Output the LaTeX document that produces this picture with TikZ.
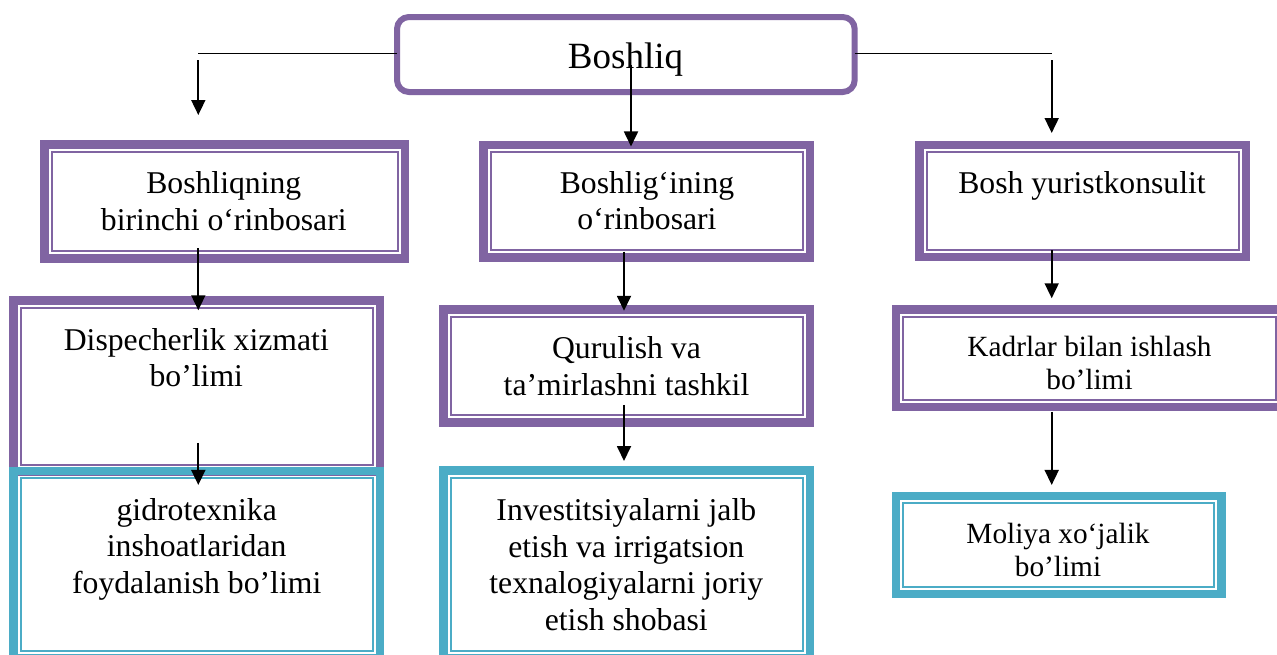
\documentclass[tikz,border=0pt]{standalone}
\usepackage{fontspec}
\setmainfont{Liberation Serif}
\usetikzlibrary{arrows.meta,fit,calc}
\definecolor{purp}{HTML}{8064A2}
\definecolor{cyanb}{HTML}{4BACC6}
\tikzset{
  frame/.style={draw=#1, line width=8.5pt, inner sep=-4.25pt, outer sep=0pt},
  thinframe/.style={draw=#1, line width=2pt},
  txt/.style={font=\fontsize{31.7}{36.5}\selectfont, align=center, inner sep=0pt,
    execute at begin node=\strut, execute at end node=\strut},
  txts/.style={font=\fontsize{29.3}{32.5}\selectfont, align=center, inner sep=0pt,
    execute at begin node=\strut, execute at end node=\strut},
  ln/.style={line width=1.8pt},
  arr/.style={line width=1.8pt, -{Triangle[width=14pt,length=15pt]}},
}
\newcommand\dframe[4]{%
  \node[frame=#2, fit={#3 #4}] (#1) {};
  \draw[thinframe=#2] ([xshift=7.25pt,yshift=-7.25pt]#1.north west) rectangle ([xshift=-7.25pt,yshift=7.25pt]#1.south east);
}
\begin{document}
\begin{tikzpicture}[x=1pt,y=-1pt]
\fill[white] (0,0) rectangle (1277,654);
\useasboundingbox (0,0) rectangle (1277,654);

% top box
\node[draw=purp, line width=6pt, rounded corners=12pt, inner sep=-3pt, outer sep=0pt, fit={(394,14) (857.7,95)}] (B0) {};
\node[font=\fontsize{37}{42}\selectfont, inner sep=0pt, anchor=base] (t0) at (625.5,68.3) {Boshliq};

% boxes
\dframe{b1}{purp}{(40,140)}{(409,262.7)}
\dframe{b2}{purp}{(479.3,140.7)}{(814,261.7)}
\dframe{b3}{purp}{(915,140.7)}{(1250,261)}
\dframe{b4}{purp}{(9.3,296)}{(384,476)}
\dframe{b5}{purp}{(439.3,305)}{(814,426.7)}
\dframe{b8}{purp}{(891.7,305)}{(1287,411)}
\dframe{b6}{cyanb}{(9.3,466.7)}{(384,662)}
\dframe{b7}{cyanb}{(439.3,466)}{(814,662)}
\dframe{b9}{cyanb}{(891.7,491.7)}{(1225.7,598.3)}

% texts
\node[txt] (t1) at (223.8,206.5) {Boshliqning\\birinchi o‘rinbosari};
\node[txt] (t2) at (647,206) {Boshlig‘ining\\o‘rinbosari};
\node[txt] (t3) at (1082,186.1) {Bosh yuristkonsulit};
\node[txt] (t4) at (196.3,363) {Dispecherlik xizmati\\bo’limi};
\node[txt] (t5) at (626.5,371.5) {Qurulish va\\ta’mirlashni tashkil};
\node[txt] (t6) at (196.7,551) {gidrotexnika\\inshoatlaridan\\foydalanish bo’limi};
\node[txt] (t7) at (626.3,570) {Investitsiyalarni jalb\\etish va irrigatsion\\texnalogiyalarni joriy\\etish shobasi};
\node[txts] (t8) at (1089.5,367.5) {Kadrlar bilan ishlash\\bo’limi};
\node[txts] (t9) at (1058,554.5) {Moliya xo‘jalik\\bo’limi};

% connector helpers
\coordinate (xL) at (198.3,0);
\coordinate (xR) at (1051.7,0);
\coordinate (xM) at (624,0);
\coordinate (aL1) at (198.3,60);
\coordinate (aL2) at (198.3,115);
\coordinate (aR1) at (1051.7,60);
\coordinate (aR2) at (1051.7,133);
\coordinate (aM1) at (631,65);

% connectors
\draw[ln] ($(B0.west)+(0,-1)$) -- ($(B0.west -| xL)+(0,-1)$);
\draw[arr] (aL1) -- (aL2);
\draw[ln] ($(B0.east)+(0,-1)$) -- ($(B0.east -| xR)+(0,-1)$);
\draw[arr] (aR1) -- (aR2);
\draw[arr] (aM1) -- ($(b2.north -| aM1)+(0,1.5)$);
\draw[arr] ($(b1.south -| xL)+(0,-10)$) -- ($(b4.north -| xL)+(0,10)$);
\draw[arr] ($(b4.south -| xL)+(0,-29)$) -- ($(b6.north -| xL)+(0,14)$);
\draw[arr] ($(b2.south -| xM)+(0,-5.75)$) -- ($(b5.north -| xM)+(0,1.5)$);
\draw[arr] ($(b5.south -| xM)+(0,-17.5)$) -- ($(b7.north -| xM)+(0,-9.25)$);
\draw[arr] ($(b3.south -| xR)+(0,-6.75)$) -- ($(b8.north -| xR)+(0,-11)$);
\draw[arr] ($(b8.south -| xR)+(0,5)$) -- ($(b9.north -| xR)+(0,-11)$);
\end{tikzpicture}
\end{document}
